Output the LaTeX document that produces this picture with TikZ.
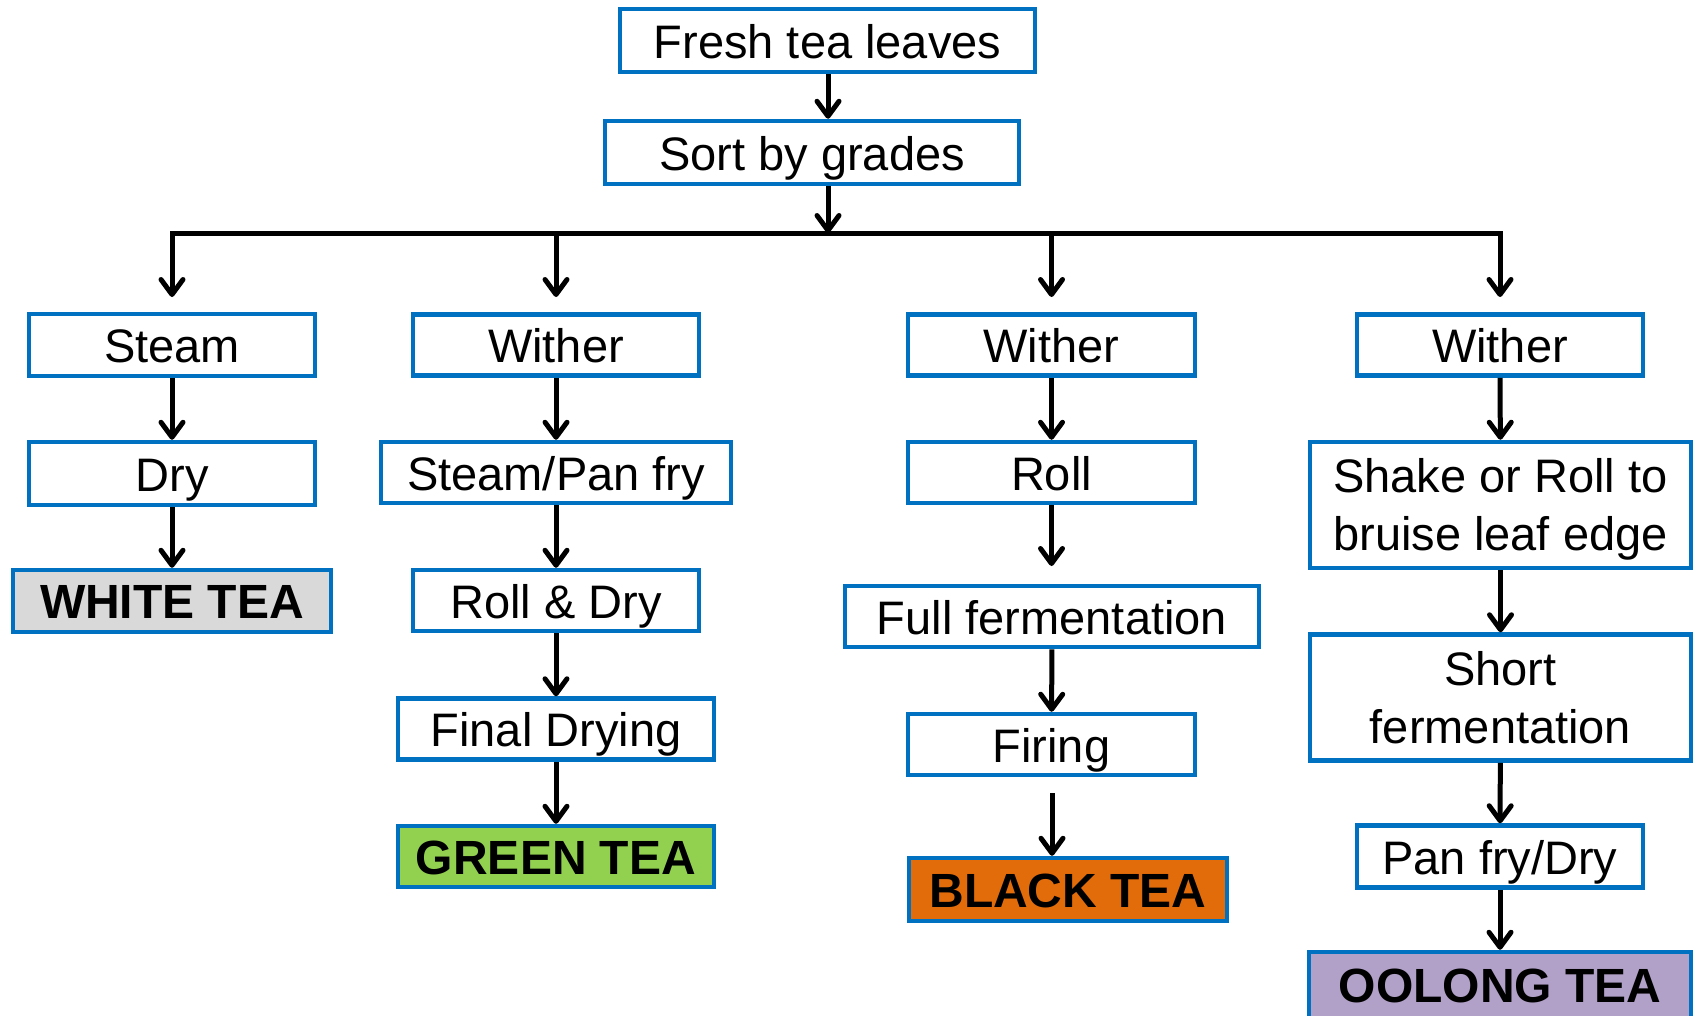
\documentclass[tikz,border=0pt]{standalone}
\usepackage{fontspec}
\setmainfont{Liberation Sans}
\usetikzlibrary{arrows.meta}
\definecolor{bblue}{RGB}{0,112,192}
\definecolor{wfill}{RGB}{217,217,217}
\definecolor{gfill}{RGB}{146,208,80}
\definecolor{bfill}{RGB}{227,108,10}
\definecolor{ofill}{RGB}{177,160,199}
\begin{document}
\begin{tikzpicture}[x=1pt,y=-1pt,
 box/.style={draw=bblue, line width=4.5pt, fill=white, inner sep=0pt, font=\fontsize{47}{58}\selectfont, text height=35pt, text depth=0pt},
 twoline/.style={draw=bblue, line width=4.5pt, fill=white, inner sep=0pt, font=\fontsize{47}{58}\selectfont},
 endbox/.style={box, font=\fontsize{48}{58}\selectfont\bfseries},
 arr/.style={line width=5pt, -{Straight Barb[length=15pt,width=22pt,line width=5pt,round]}},
 conn/.style={line width=5pt},
]
\useasboundingbox (0,0) rectangle (1696,1015);
\clip (0,0) rectangle (1696,1015);
\fill[white] (0,0) rectangle (1696,1015);

% top
\node[box, minimum width=415pt, minimum height=63pt] (fresh) at (827.5,40.5) {Fresh tea leaves};
\node[box, minimum width=414pt, minimum height=63pt] (sort) at (812,152.5) {Sort by grades};

% column 1
\node[box, minimum width=286pt, minimum height=62pt] (steam) at (172,345) {Steam};
\node[box, minimum width=286pt, minimum height=63pt] (dry) at (172,473.5) {Dry};
\node[endbox, fill=wfill, minimum width=318pt, minimum height=62pt] (white) at (172,601) {WHITE TEA};

% column 2
\node[box, minimum width=286pt, minimum height=61pt] (wither2) at (556,345) {Wither};
\node[box, minimum width=350pt, minimum height=61pt] (steampan) at (556,472.5) {Steam/Pan fry};
\node[box, minimum width=286pt, minimum height=61pt] (rolldry) at (556,600.5) {Roll \& Dry};
\node[box, minimum width=316pt, minimum height=61pt] (final) at (556,729) {Final Drying};
\node[endbox, fill=gfill, minimum width=316pt, minimum height=61pt] (green) at (556,856.5) {GREEN TEA};

% column 3
\node[box, minimum width=287pt, minimum height=61pt] (wither3) at (1051.5,345) {Wither};
\node[box, minimum width=287pt, minimum height=61pt] (roll) at (1051.5,472.5) {Roll};
\node[box, minimum width=414pt, minimum height=61pt] (full) at (1052,616.5) {Full fermentation};
\node[box, minimum width=287pt, minimum height=61pt] (firing) at (1051.5,744.5) {Firing};
\node[endbox, fill=bfill, minimum width=318pt, minimum height=63pt] (black) at (1068,889.5) {BLACK TEA};

% column 4
\node[box, minimum width=286pt, minimum height=61pt] (wither4) at (1500,345) {Wither};
\node[twoline, minimum width=381pt, minimum height=126pt] (shake) at (1500.5,505)
  {\raisebox{0pt}[\dimexpr\height+10pt\relax][\depth]{\begin{tabular}{@{}c@{}}Shake or Roll to\\bruise leaf edge\end{tabular}}};
\node[twoline, minimum width=381pt, minimum height=125pt] (short) at (1500.5,697.5)
  {\raisebox{0pt}[\dimexpr\height+10pt\relax][\depth]{\begin{tabular}{@{}c@{}}Short\\fermentation\end{tabular}}};
\node[box, minimum width=286pt, minimum height=62pt] (panfry) at (1500,856.5) {Pan fry/Dry};
\node[endbox, fill=ofill, minimum width=382pt, minimum height=66pt] (oolong) at (1500,985) {OOLONG TEA};

% branch line
\coordinate (bl) at (172,233);
\coordinate (br) at (1500,233);
\coordinate (bm) at (828,233);
\coordinate (t1) at (172,297);
\coordinate (t2) at (556,297);
\coordinate (t3) at (1051.5,297);
\coordinate (t4) at (1500,297);
\coordinate (r3) at (1051.5,566);
\coordinate (f3) at (1052,793);

\draw[arr] (fresh.south -| bm) -- (sort.north -| bm);
\draw[arr] (sort.south -| bm) -- (bm);
\draw[conn, line cap=rect] (bl) -- (br);
\draw[arr] (bl) -- (t1);
\draw[arr] (bl -| t2) -- (t2);
\draw[arr] (bl -| t3) -- (t3);
\draw[arr] (br) -- (t4);

\draw[arr] (steam) -- (dry);
\draw[arr] (dry) -- (white);

\draw[arr] (wither2) -- (steampan);
\draw[arr] (steampan) -- (rolldry);
\draw[arr] (rolldry) -- (final);
\draw[arr] (final) -- (green);

\draw[arr] (wither3) -- (roll);
\draw[arr] (roll.south) -- (r3);
\draw[arr] (full) -- (firing);
\draw[arr] (f3) -- (black.north -| f3);

\draw[arr] (wither4) -- (shake);
\draw[arr] (shake) -- (short);
\draw[arr] (short) -- (panfry);
\draw[arr] (panfry) -- (oolong);
\end{tikzpicture}
\end{document}
